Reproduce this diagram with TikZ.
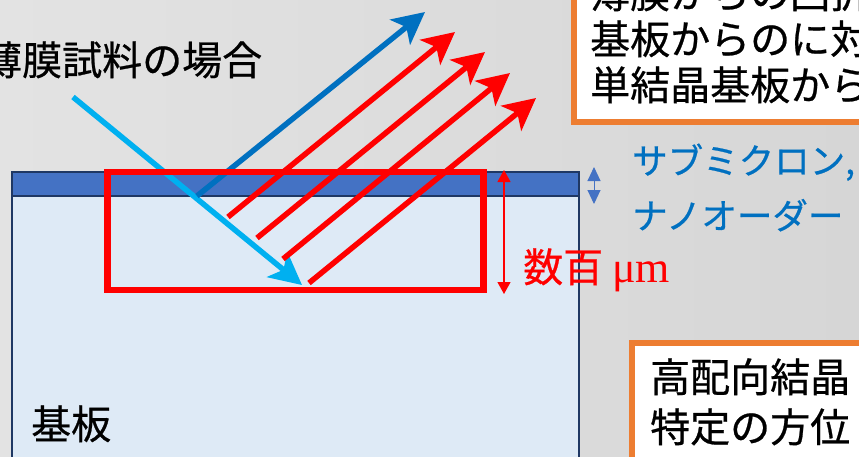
\documentclass[tikz,border=0pt]{standalone}
\usepackage{fontspec}
\setmainfont{Noto Sans CJK JP}[FakeBold=0.6]
\newfontfamily\serifmu{Liberation Serif}
\usetikzlibrary{arrows.meta}
\definecolor{bgL}{HTML}{E3E3E3}
\definecolor{bgR}{HTML}{D6D6D6}
\definecolor{filmblue}{HTML}{4472C4}
\definecolor{subfill}{HTML}{DEEAF6}
\definecolor{navy}{HTML}{1F3864}
\definecolor{lblue}{HTML}{00B0F0}
\definecolor{dblue}{HTML}{0070C0}
\definecolor{xred}{HTML}{FF0000}
\definecolor{xorange}{HTML}{ED7D31}
\tikzset{
  jtext/.style={anchor=base west, inner sep=0pt, font=\fontsize{40}{46}\selectfont},
  bluetext/.style={anchor=base west, inner sep=0pt, text=dblue, font=\fontsize{35.5}{42}\selectfont},
  ray/.style={line width=5.5pt, -{Stealth[length=32pt,width=32pt,inset=8pt]}},
  obox/.style={draw=xorange, line width=6pt, fill=white},
  dim/.style={line width=1.2pt, {Triangle[length=12pt,width=13pt]}-{Triangle[length=12pt,width=13pt]}},
}
\begin{document}
\begin{tikzpicture}[x=1pt,y=-1pt]
\useasboundingbox (0,0) rectangle (859,456);
\clip (0,0) rectangle (859,456);
\shade[left color=bgL, right color=bgR] (0,0) rectangle (859,456);
% substrate and film
\draw[navy, line width=2.5pt, fill=subfill] (12,172) rectangle (579,480);
\draw[navy, line width=2.5pt, fill=filmblue] (12,172) rectangle (579,196);
% coordinates
\coordinate (inS) at (73,97);
\coordinate (inE) at (302,285);
\coordinate (rfS) at (197,196);
\coordinate (rfE) at (425,12);
\coordinate (r1S) at (228,217); \coordinate (r1E) at (455,32);
\coordinate (r2S) at (257,238); \coordinate (r2E) at (485,52);
\coordinate (r3S) at (283,259); \coordinate (r3E) at (510,73);
\coordinate (r4S) at (309,283); \coordinate (r4E) at (536,98);
% rays
\draw[ray, color=lblue] (inS) -- (inE);
\draw[ray, color=dblue] (rfS) -- (rfE);
\draw[xred, line width=6.5pt] (107.5,172) rectangle (483.5,290);
\draw[ray, color=xred] (r1S) -- (r1E);
\draw[ray, color=xred] (r2S) -- (r2E);
\draw[ray, color=xred] (r3S) -- (r3E);
\draw[ray, color=xred] (r4S) -- (r4E);
% dimension arrows
\coordinate (dA) at (504,170);
\coordinate (dB) at (504,294);
\draw[dim, color=xred] (dA) -- (dB);
\coordinate (fA) at (594,167);
\coordinate (fB) at (594,204);
\draw[line width=1pt, color=filmblue, {Triangle[length=14pt,width=13pt]}-{Triangle[length=14pt,width=13pt]}] (fA) -- (fB);
% boxes
\draw[obox] (573.5,-20) rectangle (900,122);
\draw[obox] (631.5,343) rectangle (900,480);
% texts
\node[jtext] (title) at (-18,75) {薄膜試料の場合};
\node[jtext] (sub) at (31,439) {基板};
\node[jtext, text=xred] (hund) at (523,282) {数百 {\serifmu\fontsize{44}{48}\selectfont μm}};
\node[bluetext] (b1) at (632,174) {サブミクロン,};
\node[bluetext] (b2) at (632,229) {ナノオーダー};
\node[jtext] (t1) at (590,8) {薄膜からの回折};
\node[jtext] (t2) at (590,54) {基板からのに対};
\node[jtext] (t3) at (590,100) {単結晶基板から};
\node[jtext] (u1) at (650,392) {高配向結晶};
\node[jtext] (u2) at (650,442) {特定の方位};
\end{tikzpicture}
\end{document}
